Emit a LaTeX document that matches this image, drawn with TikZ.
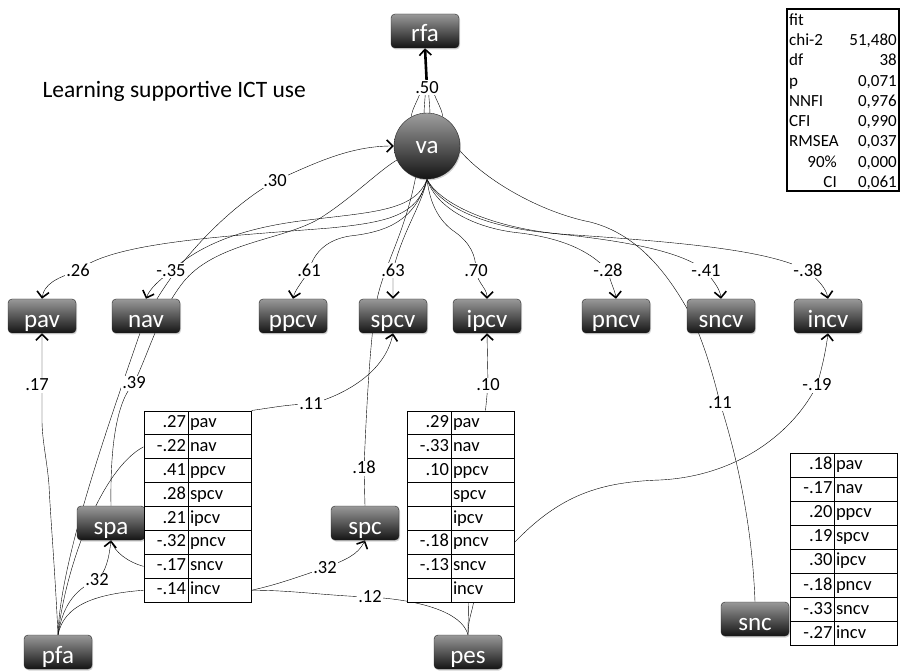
\documentclass[tikz,border=0pt]{standalone}
\usepackage{fontspec}
\setmainfont{Carlito}
\usetikzlibrary{arrows.meta,backgrounds,shadows}

\begin{document}
\begin{tikzpicture}[x=1pt, y=-1pt, >={Straight Barb[length=6pt,width=12pt,line width=1.6pt]},
  observed/.style={rectangle, rounded corners=4pt, draw=black!85, top color=black!40, bottom color=black!92,
    text=white, minimum width=68pt, minimum height=34pt, inner sep=0pt, text height=22pt, text depth=0pt,
    font=\fontsize{25}{25}\selectfont, drop shadow={opacity=0.35, shadow xshift=1pt, shadow yshift=-1.5pt}},
  latent/.style={circle, draw=black!85, top color=black!38, bottom color=black!92, text=white,
    minimum size=66pt, inner sep=0pt, text height=16pt, text depth=0pt, font=\fontsize{25}{25}\selectfont,
    drop shadow={opacity=0.35, shadow xshift=1pt, shadow yshift=-1.5pt}},
  coef/.style={fill=white, inner sep=1pt, text height=12pt, text depth=1pt, font=\fontsize{18.5}{18.5}\selectfont},
  cellv/.style={draw, fill=white, line width=1pt, minimum height=23.9pt, text width=40pt, inner xsep=2pt,
    inner ysep=0pt, text height=13pt, text depth=4pt, align=right, font=\fontsize{18.5}{18.5}\selectfont},
  celln/.style={cellv, text width=59pt, align=left},
  fitrow/.style={inner sep=1pt, text height=12pt, text depth=3pt, font=\fontsize{17}{17}\selectfont},
  link/.style={line width=1.4pt}]

\useasboundingbox (0,0) rectangle (903,671);

\node[anchor=base west, font=\fontsize{23.5}{23.5}\selectfont] (title) at (39,98) {Learning supportive ICT use};

\node[observed] (rfa) at (425,31) {rfa};
\node[latent] (va) at (427,146) {va};

\foreach \n/\x in {pav/42, nav/146, ppcv/293, spcv/393, ipcv/487, pncv/616, sncv/721, incv/828}
  \node[observed] (\n) at (\x,316) {\n};

\node[observed] (spa) at (111,523) {spa};
\node[observed] (spc) at (365,523) {spc};
\node[observed] (pfa) at (58,652) {pfa};
\node[observed] (pes) at (468,652) {pes};
\node[observed] (snc) at (755,619) {snc};

\foreach \v/\n [count=\i] in {.27/pav, -.22/nav, .41/ppcv, .28/spcv, .21/ipcv, -.32/pncv, -.17/sncv, -.14/incv} {
  \node[cellv] (ta-v\i) at (166, {399.05+\i*23.9}) {\v};
  \node[celln] (ta-n\i) at (219.5, {399.05+\i*23.9}) {\n};
}
\foreach \v/\n [count=\i] in {.29/pav, -.33/nav, .10/ppcv, /spcv, /ipcv, -.18/pncv, -.13/sncv, /incv} {
  \node[cellv] (tb-v\i) at (429, {399.05+\i*23.9}) {\v};
  \node[celln] (tb-n\i) at (482.5, {399.05+\i*23.9}) {\n};
}
\foreach \v/\n [count=\i] in {.18/pav, -.17/nav, .20/ppcv, .19/spcv, .30/ipcv, -.18/pncv, -.33/sncv, -.27/incv} {
  \node[cellv] (tc-v\i) at (812.5, {440.95+\i*24.1}) {\v};
  \node[celln] (tc-n\i) at (865.5, {440.95+\i*24.1}) {\n};
}

\node[draw, line width=1.2pt, minimum width=112pt, minimum height=182pt, inner sep=0pt] (fit) at (843,100) {};
\foreach \l [count=\i] in {fit, chi-2, df, p, NNFI, CFI, RMSEA}
  \node[fitrow, anchor=west] (fit-l\i) at (788, {0.75+\i*20.25}) {\l};
\node[fitrow, anchor=east] (fit-l8) at (838, 162.75) {90\%};
\node[fitrow, anchor=east] (fit-l9) at (838, 183) {CI};
\foreach \v [count=\i from 2] in {{51,480}, 38, {0,071}, {0,976}, {0,990}, {0,037}, {0,000}, {0,061}}
  \node[fitrow, anchor=east] (fit-v\i) at (898, {0.75+\i*20.25}) {\v};

\node[coef] (l50) at (427,88) {.50};
\node[coef] (l30) at (275,181) {.30};
\foreach \n/\x/\t in {l26/78/.26, l35/171/-.35, l61/309/.61, l63/393/.63, l70/476/.70, l28/608/-.28, l41/706/-.41, l38/808/-.38}
  \node[coef] (\n) at (\x,271) {\t};
\node[coef] (l17) at (37,385) {.17};
\node[coef] (l39) at (134,383) {.39};
\node[coef] (l10) at (488,385) {.10};
\node[coef] (l19) at (817,385) {-.19};
\node[coef] (l11a) at (311,404) {.11};
\node[coef] (l11b) at (720,403) {.11};
\node[coef] (l18) at (364,468) {.18};
\node[coef] (l32a) at (97,580) {.32};
\node[coef] (l32b) at (325,568) {.32};
\node[coef] (l12) at (370,597) {.12};

\begin{scope}[on background layer, link]
\draw[line width=2.6pt, ->] (l50.center) -- (rfa.south);
\foreach \a/\s in {118/-6, 95/-1.5, 85/1.5, 62/6}
  \draw (va.\a) .. controls +(0,-8) and +(0,8) .. ([xshift=\s pt]l50.center);

\draw[->] (va.south) .. controls (418,215) and (390,222) .. (330,228) .. controls (230,236) and (110,242) .. (l26.center) .. controls (55,278) and (44,285) .. (pav.north);
\draw[->] (va.south) .. controls (415,212) and (370,212) .. (300,221) .. controls (240,229) and (200,245) .. (l35.center) .. controls (160,280) and (150,288) .. (nav.north);
\draw[->] (va.south) .. controls (415,222) and (385,232) .. (350,236) .. controls (330,239) and (314,250) .. (l61.center) .. controls (302,282) and (295,290) .. (ppcv.north);
\draw[->] (va.south) .. controls (422,205) and (402,232) .. (l63.center) -- (spcv.north);
\draw[->] (va.south) .. controls (430,205) and (440,222) .. (455,232) .. controls (470,243) and (476,255) .. (l70.center) .. controls (478,284) and (487,288) .. (ipcv.north);
\draw[->] (va.south) .. controls (435,205) and (470,228) .. (520,233) .. controls (560,238) and (590,250) .. (l28.center) .. controls (610,282) and (615,290) .. (pncv.north);
\draw[->] (va.south) .. controls (438,205) and (480,225) .. (540,232) .. controls (620,240) and (680,250) .. (l41.center) .. controls (712,280) and (720,288) .. (sncv.north);
\draw[->] (va.south) .. controls (440,205) and (495,228) .. (560,234) .. controls (680,242) and (770,250) .. (l38.center) .. controls (818,280) and (826,288) .. (incv.north);

\draw[->] (pfa.north) .. controls (60,560) and (110,420) .. (140,333) .. controls (160,280) and (220,212) .. (l30.center) .. controls (315,163) and (350,146) .. (va.west);
\draw (spa.north) .. controls (110,440) and (118,400) .. (l39.center) .. controls (150,350) and (160,310) .. (185,280) .. controls (220,240) and (290,240) .. (325,215) .. controls (355,195) and (380,170) .. (va.205);
\draw[->] (pfa.north) .. controls (55,570) and (50,510) .. (49,485) .. controls (47,460) and (42,440) .. (42,420) -- (pav.south);
\draw[->] (pfa.north) .. controls (62,610) and (72,590) .. (l32a.center) .. controls (106,572) and (109,558) .. (spa.south);
\draw (ta-v7.west) .. controls (128,562) and (114,552) .. (spa.south);
\draw (pfa.north) .. controls (64,605) and (95,594) .. (ta-v8.west);
\draw (pfa.north) .. controls (65,570) and (100,470) .. (ta-v2.west);

\draw[->] (ta-n1.north east) .. controls (270,408) and (290,404) .. (l11a.center) .. controls (345,395) and (385,372) .. (spcv.south);
\draw (spc.north) -- (l18.center) .. controls (366,420) and (370,330) .. (378,295) .. controls (386,262) and (405,232) .. (va.250);
\draw[->] (ta-n8.east) .. controls (280,584) and (300,576) .. (l32b.center) .. controls (345,560) and (358,555) .. (spc.south);
\draw (ta-n8.east) .. controls (290,590) and (330,596) .. (l12.center) .. controls (420,600) and (462,612) .. (pes.north);

\draw (pes.north) -- ([xshift=-14pt]tb-n8.south);
\draw (pes.north) .. controls (468,620) and (472,612) .. ([xshift=-9pt]tb-n8.south);
\draw[->] ([xshift=3pt]tb-n1.north) -- (l10.center) -- (ipcv.south);
\draw[->] (tb-n6.east) .. controls (560,495) and (600,482) .. (660,480) .. controls (740,476) and (795,430) .. (l19.center) .. controls (822,368) and (826,350) .. (incv.south);

\draw (snc.north) .. controls (752,520) and (735,450) .. (l11b.center) .. controls (712,370) and (700,330) .. (685,305) .. controls (660,262) and (630,232) .. (590,222) .. controls (540,212) and (485,180) .. (va.-8);
\end{scope}

\end{tikzpicture}
\end{document}
